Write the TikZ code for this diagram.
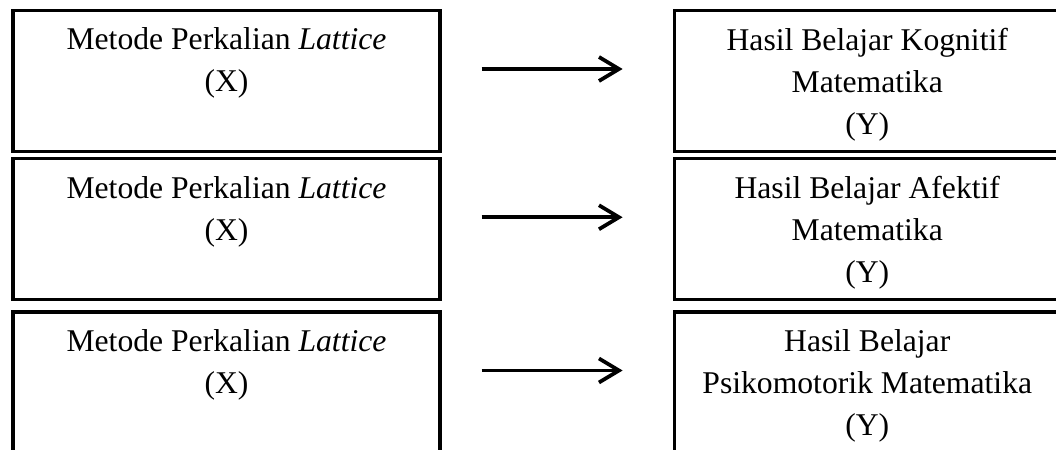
\documentclass[tikz,border=0pt]{standalone}
\usepackage{fontspec}
\setmainfont{Liberation Serif}
\usepackage{tikz}
\usetikzlibrary{positioning, arrows.meta}
\tikzstyle{kotak} = [rectangle, draw=black, line width=1.3pt, minimum height=56.4pt]
\tikzstyle{teks} = [align=center, inner sep=0pt, anchor=north, font=\fontsize{12.66}{16.8}\selectfont]
\tikzstyle{arrow} = [line width=1.5pt, -{Straight Barb[length=8pt, width=9.6pt]}, shorten <=16pt, shorten >=20pt]

\begin{document}
\begin{tikzpicture}[x=0.4pt, y=-0.4pt]
        \clip (0,0) rectangle (1056,450);
        \node (metode1) [kotak, minimum width=170.8pt] at (226.5,81) {};
        \node (metode2) [kotak, minimum width=170.8pt, below=1.6pt of metode1] {};
        \node (metode3) [kotak, minimum width=170.8pt, below=3.6pt of metode2] {};
        \node (hasil1) [kotak, minimum width=154.4pt, right=92.4pt of metode1] {};
        \node (hasil2) [kotak, minimum width=154.4pt, right=92.4pt of metode2] {};
        \node (hasil3) [kotak, minimum width=154.4pt, right=92.4pt of metode3] {};

        \node (teksx1) [teks, below=7.4pt of metode1.north] {Metode Perkalian \textit{Lattice}\\(X)};
        \node (teksx2) [teks, below=7.4pt of metode2.north] {Metode Perkalian \textit{Lattice}\\(X)};
        \node (teksx3) [teks, below=7.4pt of metode3.north] {Metode Perkalian \textit{Lattice}\\(X)};
        \node (teksy1) [teks, below=7.4pt of hasil1.north] {Hasil Belajar Kognitif\\Matematika\\(Y)};
        \node (teksy2) [teks, below=7.4pt of hasil2.north] {Hasil Belajar Afektif\\Matematika\\(Y)};
        \node (teksy3) [teks, below=7.4pt of hasil3.north] {Hasil Belajar\\Psikomotorik Matematika\\(Y)};

        \draw [arrow] ([yshift=4.8pt]metode1.east) -- ([yshift=4.8pt]hasil1.west);
        \draw [arrow] ([yshift=4.8pt]metode2.east) -- ([yshift=4.8pt]hasil2.west);
        \draw [arrow] ([yshift=4.8pt]metode3.east) -- ([yshift=4.8pt]hasil3.west);

\end{tikzpicture}
\end{document}
